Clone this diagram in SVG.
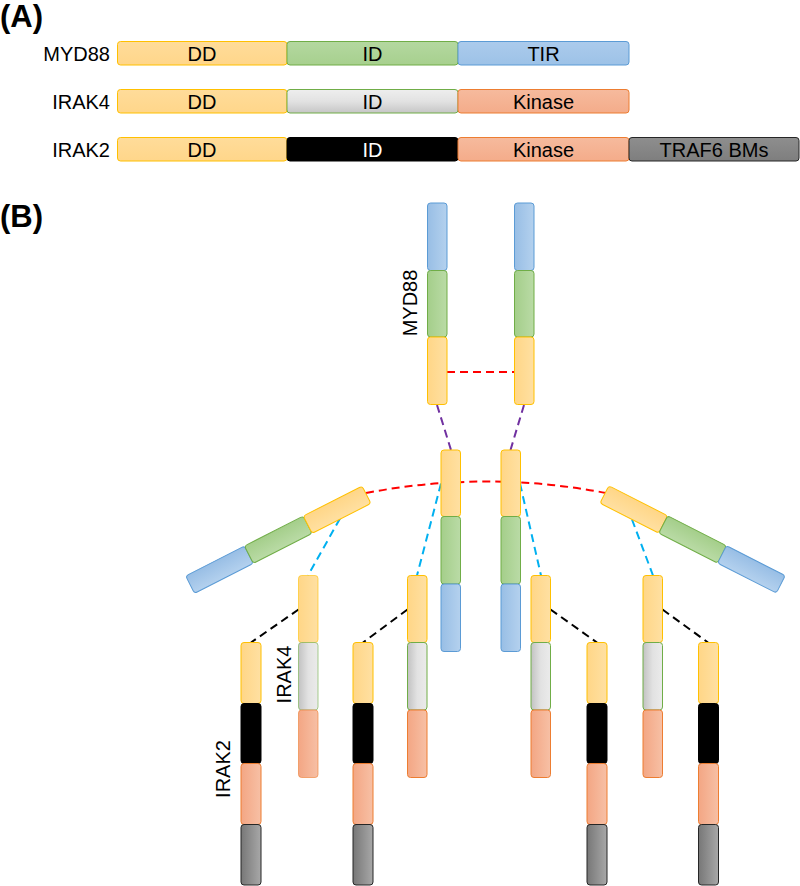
<svg xmlns="http://www.w3.org/2000/svg" width="800" height="886" viewBox="0 0 800 886">
<defs>
<linearGradient id="gyA" x1="0" y1="0" x2="0" y2="1"><stop offset="0" stop-color="#FFDC9A"/><stop offset="1" stop-color="#FFD68A"/></linearGradient>
<linearGradient id="ggA" x1="0" y1="0" x2="0" y2="1"><stop offset="0" stop-color="#B4D8A0"/><stop offset="1" stop-color="#A7D08E"/></linearGradient>
<linearGradient id="gbA" x1="0" y1="0" x2="0" y2="1"><stop offset="0" stop-color="#ABCBEC"/><stop offset="1" stop-color="#9DC2E7"/></linearGradient>
<linearGradient id="gkA" x1="0" y1="0" x2="0" y2="1"><stop offset="0" stop-color="#F6BA9D"/><stop offset="1" stop-color="#F4AC8A"/></linearGradient>
<linearGradient id="gwA" x1="0" y1="0" x2="0" y2="1"><stop offset="0" stop-color="#EEEEEE"/><stop offset="0.5" stop-color="#E2E2E2"/><stop offset="1" stop-color="#C6C6C6"/></linearGradient>
<linearGradient id="gtA" x1="0" y1="0" x2="0" y2="1"><stop offset="0" stop-color="#8E8E8E"/><stop offset="1" stop-color="#7E7E7E"/></linearGradient>
<linearGradient id="gy" x1="0" y1="0" x2="1" y2="0"><stop offset="0" stop-color="#FFD687"/><stop offset="1" stop-color="#FFE0A2"/></linearGradient>
<linearGradient id="gg" x1="0" y1="0" x2="1" y2="0"><stop offset="0" stop-color="#A4CE8A"/><stop offset="1" stop-color="#BADBA6"/></linearGradient>
<linearGradient id="gb" x1="0" y1="0" x2="1" y2="0"><stop offset="0" stop-color="#98BEE5"/><stop offset="1" stop-color="#B4D1EE"/></linearGradient>
<linearGradient id="gk" x1="0" y1="0" x2="1" y2="0"><stop offset="0" stop-color="#F3A684"/><stop offset="1" stop-color="#F7C0A5"/></linearGradient>
<linearGradient id="gw" x1="0" y1="0" x2="1" y2="0"><stop offset="0" stop-color="#C2C2C2"/><stop offset="0.5" stop-color="#E2E2E2"/><stop offset="1" stop-color="#EBEBEB"/></linearGradient>
<linearGradient id="gt" x1="0" y1="0" x2="1" y2="0"><stop offset="0" stop-color="#777777"/><stop offset="1" stop-color="#A8A8A8"/></linearGradient>
<linearGradient id="gyR" x1="0" y1="0" x2="0" y2="1"><stop offset="0" stop-color="#FFD687"/><stop offset="1" stop-color="#FFE0A2"/></linearGradient>
<linearGradient id="ggR" x1="0" y1="0" x2="0" y2="1"><stop offset="0" stop-color="#A4CE8A"/><stop offset="1" stop-color="#BADBA6"/></linearGradient>
<linearGradient id="gbR" x1="0" y1="0" x2="0" y2="1"><stop offset="0" stop-color="#98BEE5"/><stop offset="1" stop-color="#B4D1EE"/></linearGradient>
</defs>
<style>
rect{stroke-width:1}
.ay{fill:url(#gyA);stroke:#FFC000}
.ag{fill:url(#ggA);stroke:#70AD47}
.ab{fill:url(#gbA);stroke:#5B9BD5}
.ak{fill:url(#gkA);stroke:#ED7D31}
.aw{fill:url(#gwA);stroke:#70AD47}
.ad{fill:#000;stroke:#000}
.at{fill:url(#gtA);stroke:#262626}
.y{fill:url(#gy);stroke:#FFC000}
.g{fill:url(#gg);stroke:#70AD47}
.b{fill:url(#gb);stroke:#5B9BD5}
.k{fill:url(#gk);stroke:#ED7D31}
.w{fill:url(#gw);stroke:#70AD47}
.d{fill:#000;stroke:#000}
.t{fill:url(#gt);stroke:#262626}
.ry{fill:url(#gyR);stroke:#FFC000}
.rg{fill:url(#ggR);stroke:#70AD47}
.rb{fill:url(#gbR);stroke:#5B9BD5}
text{font-family:"Liberation Sans",Arial,sans-serif;font-size:20px;fill:#000}
.lab{text-anchor:end}
.mid{text-anchor:middle}
.hd{font-weight:bold;font-size:31px}
.cn{fill:none;stroke-width:2;stroke-dasharray:8 5}
.red{stroke:#FF0000}
.pur{stroke:#7030A0}
.blu{stroke:#00B0F0}
.blk{stroke:#000}
</style>

<text class="hd" x="0" y="27">(A)</text>
<text class="hd" x="0" y="227">(B)</text>

<g id="partA-MYD88">
<text class="lab" x="110" y="61">MYD88</text>
<rect class="ay" x="117.5" y="41.5" width="169.5" height="23.5" rx="3"/>
<rect class="ag" x="287" y="41.5" width="171" height="23.5" rx="3"/>
<rect class="ab" x="458" y="41.5" width="171" height="23.5" rx="3"/>
<text class="mid" x="202" y="61">DD</text>
<text class="mid" x="372.5" y="61">ID</text>
<text class="mid" x="543.5" y="61">TIR</text>
</g>
<g id="partA-IRAK4">
<text class="lab" x="110" y="109">IRAK4</text>
<rect class="ay" x="117.5" y="89.5" width="169.5" height="23.5" rx="3"/>
<rect class="aw" x="287" y="89.5" width="171" height="23.5" rx="3"/>
<rect class="ak" x="458" y="89.5" width="171" height="23.5" rx="3"/>
<text class="mid" x="202" y="109">DD</text>
<text class="mid" x="372.5" y="109">ID</text>
<text class="mid" x="543.5" y="109">Kinase</text>
</g>
<g id="partA-IRAK2">
<text class="lab" x="110" y="157">IRAK2</text>
<rect class="ay" x="117.5" y="137.5" width="169.5" height="23.5" rx="3"/>
<rect class="ad" x="287" y="137.5" width="171" height="23.5" rx="3"/>
<rect class="ak" x="458" y="137.5" width="171" height="23.5" rx="3"/>
<rect class="at" x="629" y="137.5" width="170" height="23.5" rx="3"/>
<text class="mid" x="202" y="157">DD</text>
<text class="mid" x="372.5" y="157" style="fill:#fff">ID</text>
<text class="mid" x="543.5" y="157">Kinase</text>
<text class="mid" x="714" y="157">TRAF6 BMs</text>
</g>

<g id="connectors">
<path class="cn red" d="M447,372 H514.5"/>
<path class="cn red" d="M366,493 Q486,470 606,493"/>
<path class="cn pur" d="M437,405 L451,450"/>
<path class="cn pur" d="M524,405 L510.5,450"/>
<path class="cn blu" d="M340,518.5 L308,575.5"/>
<path class="cn blu" d="M441,483.5 L417,575.5"/>
<path class="cn blu" d="M520,483.5 L541,575.5"/>
<path class="cn blu" d="M632,519.5 L653,575.5"/>
<path class="cn blk" d="M298.5,609.5 L251,642.5"/>
<path class="cn blk" d="M407.5,609.5 L363,642.5"/>
<path class="cn blk" d="M550.5,609.5 L597,642.5"/>
<path class="cn blk" d="M662.5,609.5 L708,642.5"/>
</g>

<g id="myd88-top-left">
<rect class="b" x="427.5" y="203" width="19.5" height="67.5" rx="3"/>
<rect class="g" x="427.5" y="270.5" width="19.5" height="66.5" rx="3"/>
<rect class="y" x="427.5" y="337" width="19.5" height="67.5" rx="3"/>
</g>
<g id="myd88-top-right">
<rect class="b" x="514.5" y="203" width="19.5" height="67.5" rx="3"/>
<rect class="g" x="514.5" y="270.5" width="19.5" height="66.5" rx="3"/>
<rect class="y" x="514.5" y="337" width="19.5" height="67.5" rx="3"/>
</g>
<g id="label-MYD88"><text class="mid" transform="translate(410,303) rotate(-90)" x="0" y="7">MYD88</text></g>

<g id="myd88-center-left">
<rect class="y" x="441" y="450" width="19.5" height="66.5" rx="3"/>
<rect class="g" x="441" y="516.5" width="19.5" height="67.5" rx="3"/>
<rect class="b" x="441" y="584" width="19.5" height="67.5" rx="3"/>
</g>
<g id="myd88-center-right">
<rect class="y" x="501" y="450" width="19.5" height="66.5" rx="3"/>
<rect class="g" x="501" y="516.5" width="19.5" height="67.5" rx="3"/>
<rect class="b" x="501" y="584" width="19.5" height="67.5" rx="3"/>
</g>

<g id="myd88-tilted-left" transform="translate(278.3,539.7) rotate(-27)">
<rect class="rb" x="-99" y="-9.75" width="66" height="19.5" rx="3"/>
<rect class="rg" x="-33" y="-9.75" width="66" height="19.5" rx="3"/>
<rect class="ry" x="33" y="-9.75" width="66" height="19.5" rx="3"/>
</g>
<g id="myd88-tilted-right" transform="translate(692.6,539.4) rotate(27)">
<rect class="ry" x="-99" y="-9.75" width="66" height="19.5" rx="3"/>
<rect class="rg" x="-33" y="-9.75" width="66" height="19.5" rx="3"/>
<rect class="rb" x="33" y="-9.75" width="66" height="19.5" rx="3"/>
</g>

<g id="irak4-1">
<rect class="y" x="298.5" y="575.5" width="19.5" height="67" rx="3" style="stroke-opacity:0.6"/>
<rect class="w" x="298.5" y="642.5" width="19.5" height="67.5" rx="3" style="stroke-opacity:0.6"/>
<rect class="k" x="298.5" y="710" width="19.5" height="67.5" rx="3" style="stroke-opacity:0.6"/>
</g>
<g id="irak4-2">
<rect class="y" x="407.5" y="575.5" width="19.5" height="67" rx="3"/>
<rect class="w" x="407.5" y="642.5" width="19.5" height="67.5" rx="3"/>
<rect class="k" x="407.5" y="710" width="19.5" height="67.5" rx="3"/>
</g>
<g id="irak4-3">
<rect class="y" x="531" y="575.5" width="19.5" height="67" rx="3"/>
<rect class="w" x="531" y="642.5" width="19.5" height="67.5" rx="3"/>
<rect class="k" x="531" y="710" width="19.5" height="67.5" rx="3"/>
</g>
<g id="irak4-4">
<rect class="y" x="643" y="575.5" width="19.5" height="67" rx="3"/>
<rect class="w" x="643" y="642.5" width="19.5" height="67.5" rx="3"/>
<rect class="k" x="643" y="710" width="19.5" height="67.5" rx="3"/>
</g>
<g id="label-IRAK4"><text class="mid" transform="translate(284,674.5) rotate(-90)" x="0" y="7">IRAK4</text></g>

<g id="irak2-1">
<rect class="y" x="241" y="642.5" width="20" height="61" rx="3"/>
<rect class="d" x="241" y="703.5" width="20" height="60" rx="3"/>
<rect class="k" x="241" y="763.5" width="20" height="61" rx="3"/>
<rect class="t" x="241" y="824.5" width="20" height="60.5" rx="3"/>
</g>
<g id="irak2-2">
<rect class="y" x="353" y="642.5" width="20" height="61" rx="3"/>
<rect class="d" x="353" y="703.5" width="20" height="60" rx="3"/>
<rect class="k" x="353" y="763.5" width="20" height="61" rx="3"/>
<rect class="t" x="353" y="824.5" width="20" height="60.5" rx="3"/>
</g>
<g id="irak2-3">
<rect class="y" x="587" y="642.5" width="20" height="61" rx="3"/>
<rect class="d" x="587" y="703.5" width="20" height="60" rx="3"/>
<rect class="k" x="587" y="763.5" width="20" height="61" rx="3"/>
<rect class="t" x="587" y="824.5" width="20" height="60.5" rx="3"/>
</g>
<g id="irak2-4">
<rect class="y" x="698.5" y="642.5" width="20" height="61" rx="3"/>
<rect class="d" x="698.5" y="703.5" width="20" height="60" rx="3"/>
<rect class="k" x="698.5" y="763.5" width="20" height="61" rx="3"/>
<rect class="t" x="698.5" y="824.5" width="20" height="60.5" rx="3"/>
</g>
<g id="label-IRAK2"><text class="mid" transform="translate(222.5,769) rotate(-90)" x="0" y="7">IRAK2</text></g>
</svg>
